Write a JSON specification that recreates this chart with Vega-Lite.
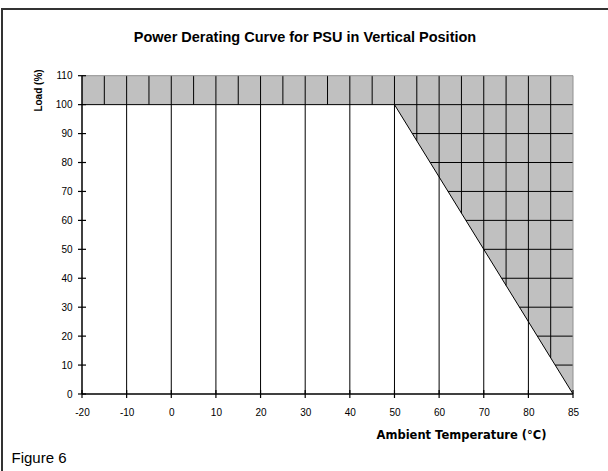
{
  "$schema": "https://vega.github.io/schema/vega-lite/v6.json",
  "width": 606,
  "height": 462,
  "autosize": {"type": "none"},
  "padding": {"left": 2, "top": 9, "right": 0, "bottom": 0},
  "background": "white",
  "config": {
    "view": {"stroke": "#333333", "strokeWidth": 2, "strokeDash": [606, 1068, 462]},
    "font": "Liberation Sans",
    "axisY": {
      "orient": "left",
      "offset": -80,
      "values": [0, 10, 20, 30, 40, 50, 60, 70, 80, 90, 100, 110],
      "grid": false,
      "domain": false,
      "ticks": false,
      "labelFontSize": 10,
      "labelColor": "black",
      "labelPadding": 10,
      "labelFlush": false,
      "labelOverlap": false,
      "titleFont": "Liberation Sans Narrow, Liberation Sans",
      "titleFontSize": 10,
      "titleFontWeight": "bold",
      "titleColor": "black",
      "titleAngle": -90,
      "titleX": -44,
      "titleY": 81,
      "titleAlign": "center",
      "titleBaseline": "middle"
    }
  },
  "title": {
    "text": "Power Derating Curve for PSU in Vertical Position",
    "orient": "top",
    "anchor": "middle",
    "frame": "group",
    "offset": -47,
    "baseline": "alphabetic",
    "fontSize": 14.5,
    "fontWeight": "bold",
    "color": "black",
    "font": "Liberation Sans"
  },
  "datasets": {
    "curve": [
      {"t": -20, "load": 100},
      {"t": 50, "load": 100},
      {"t": 60, "load": 75},
      {"t": 70, "load": 50},
      {"t": 80, "load": 25},
      {"t": 85, "load": 0}
    ],
    "axislines": [
      {"t": -20, "t2": -20, "load": 0, "load2": 110},
      {"t": -20, "t2": 85, "load": 0, "load2": 0}
    ],
    "xticks": [
      {"t": -20, "load": 0}, {"t": -10, "load": 0}, {"t": 0, "load": 0}, {"t": 10, "load": 0},
      {"t": 20, "load": 0}, {"t": 30, "load": 0}, {"t": 40, "load": 0}, {"t": 50, "load": 0},
      {"t": 60, "load": 0}, {"t": 70, "load": 0}, {"t": 80, "load": 0}, {"t": 85, "load": 0}
    ],
    "yticks": [
      {"load": 0}, {"load": 10}, {"load": 20}, {"load": 30}, {"load": 40}, {"load": 50},
      {"load": 60}, {"load": 70}, {"load": 80}, {"load": 90}, {"load": 100}, {"load": 110}
    ],
    "grid": [
      {"t": -10, "t2": -10, "load": 0, "load2": 110},
      {"t": 0, "t2": 0, "load": 0, "load2": 110},
      {"t": 10, "t2": 10, "load": 0, "load2": 110},
      {"t": 20, "t2": 20, "load": 0, "load2": 110},
      {"t": 30, "t2": 30, "load": 0, "load2": 110},
      {"t": 40, "t2": 40, "load": 0, "load2": 110},
      {"t": 50, "t2": 50, "load": 0, "load2": 110},
      {"t": 60, "t2": 60, "load": 0, "load2": 110},
      {"t": 70, "t2": 70, "load": 0, "load2": 110},
      {"t": 80, "t2": 80, "load": 0, "load2": 110},
      {"t": -15, "t2": -15, "load": 100, "load2": 110},
      {"t": -5, "t2": -5, "load": 100, "load2": 110},
      {"t": 5, "t2": 5, "load": 100, "load2": 110},
      {"t": 15, "t2": 15, "load": 100, "load2": 110},
      {"t": 25, "t2": 25, "load": 100, "load2": 110},
      {"t": 35, "t2": 35, "load": 100, "load2": 110},
      {"t": 45, "t2": 45, "load": 100, "load2": 110},
      {"t": 55, "t2": 55, "load": 87.5, "load2": 110},
      {"t": 65, "t2": 65, "load": 62.5, "load2": 110},
      {"t": 75, "t2": 75, "load": 37.5, "load2": 110},
      {"t": 82.5, "t2": 82.5, "load": 12.5, "load2": 110},
      {"t": -20, "t2": 85, "load": 100, "load2": 100},
      {"t": 54, "t2": 85, "load": 90, "load2": 90},
      {"t": 58, "t2": 85, "load": 80, "load2": 80},
      {"t": 62, "t2": 85, "load": 70, "load2": 70},
      {"t": 66, "t2": 85, "load": 60, "load2": 60},
      {"t": 70, "t2": 85, "load": 50, "load2": 50},
      {"t": 74, "t2": 85, "load": 40, "load2": 40},
      {"t": 78, "t2": 85, "load": 30, "load2": 30},
      {"t": 81, "t2": 85, "load": 20, "load2": 20},
      {"t": 83, "t2": 85, "load": 10, "load2": 10}
    ],
    "frame": [
      {"t": 85, "t2": 85, "load": 0, "load2": 110},
      {"t": -20, "t2": 85, "load": 110, "load2": 110}
    ]
  },
  "encoding": {
    "y": {
      "field": "load",
      "type": "quantitative",
      "scale": {"domain": [0, 110], "range": [385, 66.7], "nice": false, "zero": false},
      "axis": {"title": "Load (%)"}
    }
  },
  "layer": [
    {
      "data": {"name": "curve"},
      "mark": {"type": "area", "color": "#c0c0c0", "opacity": 1},
      "encoding": {
        "x": {
          "field": "t",
          "type": "quantitative",
          "scale": {"domain": [-20, 80, 85], "range": [80, 526.4, 571], "nice": false, "zero": false},
          "axis": {
            "orient": "bottom",
            "offset": -77,
            "values": [-20, -10, 0, 10, 20, 30, 40, 50, 60, 70, 80, 85],
            "labelExpr": "replace(datum.label, '\u2212', '-')",
            "grid": false,
            "domain": false,
            "ticks": false,
            "labelFontSize": 10,
            "labelColor": "black",
            "labelPadding": 13,
            "labelFlush": false,
            "labelOverlap": false,
            "title": "Ambient Temperature (°C)",
            "titleFont": "DejaVu Sans",
            "titleFontSize": 11.5,
            "titleFontWeight": "bold",
            "titleColor": "black",
            "titleX": 544,
            "titleY": 41,
            "titleAlign": "right",
            "titleBaseline": "middle"
          }
        },
        "y2": {"datum": 110}
      }
    },
    {
      "data": {"name": "grid"},
      "mark": {"type": "rule", "color": "black", "strokeWidth": 1},
      "encoding": {
        "x": {
          "field": "t",
          "type": "quantitative",
          "axis": {
            "orient": "top",
            "domain": false,
            "ticks": false,
            "labels": false,
            "grid": false,
            "title": "Figure 6",
            "titleFont": "Liberation Sans",
            "titleFontSize": 15,
            "titleFontWeight": "normal",
            "titleColor": "black",
            "titleX": 9,
            "titleY": 453,
            "titleAlign": "left",
            "titleBaseline": "alphabetic",
            "titleAngle": 0
          }
        },
        "x2": {"field": "t2"},
        "y2": {"field": "load2"}
      }
    },
    {
      "data": {"name": "frame"},
      "mark": {"type": "rule", "color": "#909090", "strokeWidth": 1},
      "encoding": {
        "x": {"field": "t", "type": "quantitative", "axis": null},
        "x2": {"field": "t2"},
        "y2": {"field": "load2"}
      }
    },
    {
      "data": {"name": "curve"},
      "transform": [{"filter": "datum.t >= 50"}],
      "mark": {"type": "line", "color": "black", "strokeWidth": 1},
      "encoding": {
        "x": {"field": "t", "type": "quantitative", "axis": null}
      }
    },
    {
      "data": {"name": "axislines"},
      "mark": {"type": "rule", "color": "black", "strokeWidth": 1.5},
      "encoding": {
        "x": {"field": "t", "type": "quantitative", "axis": null},
        "x2": {"field": "t2"},
        "y2": {"field": "load2"}
      }
    },
    {
      "data": {"name": "xticks"},
      "mark": {"type": "tick", "orient": "vertical", "color": "black", "size": 8, "thickness": 1.2, "opacity": 1},
      "encoding": {
        "x": {"field": "t", "type": "quantitative", "axis": null}
      }
    },
    {
      "data": {"name": "yticks"},
      "mark": {"type": "tick", "orient": "horizontal", "color": "black", "size": 8, "thickness": 1.2, "opacity": 1},
      "encoding": {
        "x": {"datum": -20, "type": "quantitative", "axis": null}
      }
    }
  ],
  "resolve": {"axis": {"x": "independent"}}
}
